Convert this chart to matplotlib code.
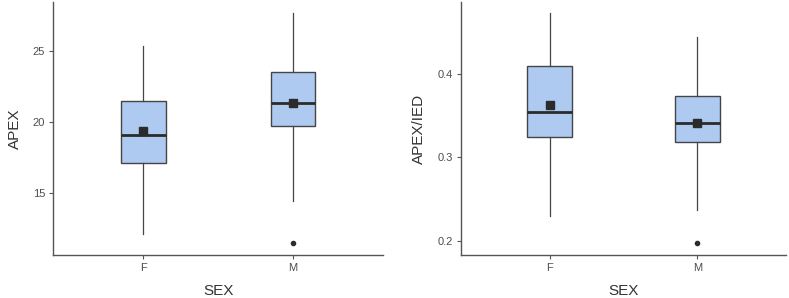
import matplotlib

matplotlib.use("Agg")
import matplotlib.pyplot as plt

plt.rcParams['font.family'] = ['Liberation Sans', 'DejaVu Sans']

# categories
sex = ["F", "M"]

# APEX summary stats per sex: whisker low, Q1, median, Q3, whisker high, mean
apex_whislo = [12.19, 14.48]
apex_q1 = [17.16, 19.69]
apex_med = [19.11, 21.33]
apex_q3 = [21.47, 23.53]
apex_whishi = [25.30, 27.60]
apex_mean = [19.39, 21.30]
apex_fliers = [[], [11.49]]

# APEX/IED summary stats per sex
ratio_whislo = [0.2294, 0.2367]
ratio_q1 = [0.3246, 0.3184]
ratio_med = [0.3547, 0.3411]
ratio_q3 = [0.4100, 0.3736]
ratio_whishi = [0.4733, 0.4445]
ratio_mean = [0.3635, 0.3416]
ratio_fliers = [[], [0.1964]]

apex_ticks = [15, 20, 25]
ratio_ticks = [0.2, 0.3, 0.4]

FILL = '#aecaf1'
EDGE = '#454545'
TXT = '#4d4d4d'


def stats_list(lo, q1, med, q3, hi, mean, fliers):
    out = []
    for i in range(len(sex)):
        out.append(dict(whislo=lo[i], q1=q1[i], med=med[i], q3=q3[i],
                        whishi=hi[i], mean=mean[i], fliers=fliers[i], label=sex[i]))
    return out


def draw(ax, stats, ylabel, yticks, fmt):
    pos = list(range(1, len(sex) + 1))
    ax.bxp(stats, positions=pos, widths=0.3, patch_artist=True,
           showmeans=True, showcaps=False,
           boxprops=dict(facecolor=FILL, edgecolor=EDGE, linewidth=1.0),
           medianprops=dict(color='#2b2b2b', linewidth=2.0),
           whiskerprops=dict(color=EDGE, linewidth=0.9),
           flierprops=dict(marker='o', markerfacecolor='#2b2b2b', markeredgecolor='#2b2b2b',
                           markersize=3),
           meanprops=dict(marker='s', markerfacecolor='#2b2b2b', markeredgecolor='#2b2b2b',
                          markersize=5.3))
    # ggplot-like expansion
    allv = [v for s in stats for v in [s['whislo'], s['whishi']] + list(s['fliers'])]
    lo, hi = min(allv), max(allv)
    pad = (hi - lo) * 0.05
    ax.set_ylim(lo - pad, hi + pad)
    ax.set_xlim(0.4, len(sex) + 0.6)
    ax.set_xticks(pos)
    ax.set_xticklabels(sex)
    ax.set_yticks(yticks)
    ax.set_yticklabels([fmt(t) for t in yticks])
    ax.set_xlabel('SEX', fontsize=11, color='#333333', labelpad=8)
    ax.set_ylabel(ylabel, fontsize=11, color='#333333', labelpad=8)
    ax.tick_params(axis='both', labelsize=8, colors=TXT, length=3, width=0.8, pad=3)
    ax.tick_params(axis='both', color='#555555')
    for s in ['top', 'right']:
        ax.spines[s].set_visible(False)
    for s in ['left', 'bottom']:
        ax.spines[s].set_color('#555555')
        ax.spines[s].set_linewidth(1.0)


fig = plt.figure(figsize=(7.89, 2.98), dpi=100)
ax1 = fig.add_axes([0.0678, 0.1443, 0.4174, 0.849])
ax2 = fig.add_axes([0.5843, 0.1443, 0.4119, 0.849])

draw(ax1, stats_list(apex_whislo, apex_q1, apex_med, apex_q3, apex_whishi, apex_mean, apex_fliers),
     'APEX', apex_ticks, lambda t: f"{t:g}")
draw(ax2, stats_list(ratio_whislo, ratio_q1, ratio_med, ratio_q3, ratio_whishi, ratio_mean, ratio_fliers),
     'APEX/IED', ratio_ticks, lambda t: f"{t:.1f}")

fig.savefig('out.png', dpi=100)
